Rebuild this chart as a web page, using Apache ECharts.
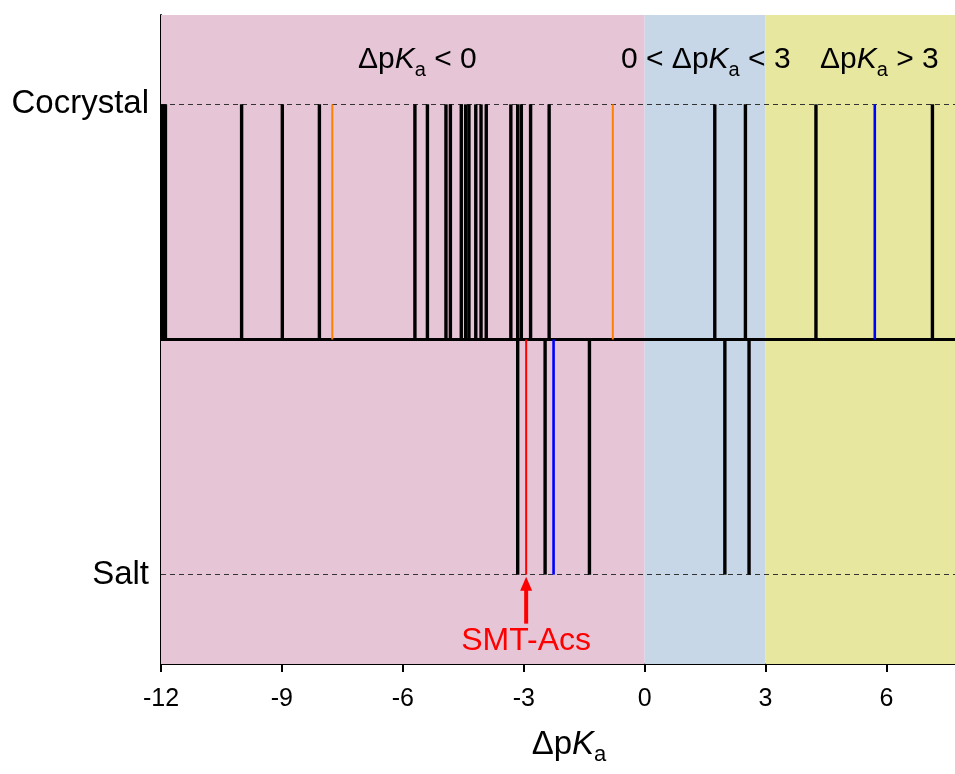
<!DOCTYPE html>
<html>
<head>
<meta charset="utf-8">
<script src="https://cdn.jsdelivr.net/npm/echarts@6/dist/echarts.min.js"></script>
<style>
  html, body { margin: 0; padding: 0; background: #fff; }
  #chart { width: 955px; height: 774px; }
</style>
</head>
<body>
<div id="chart"></div>
<script>
// ΔpKa values
const cocrystalBlack = [-11.96, -11.89, -10.0, -8.99, -8.07, -5.70, -5.39, -4.93, -4.82, -4.55, -4.44,
  -4.36, -4.19, -4.06, -3.93, -3.32, -3.15, -3.06, -2.83, -2.37, 1.74, 2.50, 4.25, 7.14]
const cocrystalOrange = [-7.75, -0.79]
const cocrystalBlue = [5.71]
const saltBlack = [-3.15, -2.47, -1.37, 1.99, 2.59]
const saltRed = [-2.94]
const saltBlue = [-2.26]

// y = 0 -> Salt, y = 1 -> Cocrystal
const rowLabels = ['Salt', 'Cocrystal']
const xTickValues = [-12, -9, -6, -3, 0, 3, 6]
const xMinorTicks = [-10.5, -7.5, -4.5, -1.5, 1.5, 4.5, 7.5]
const regionBounds = [[-12, 0], [0, 3], [3, 7.7]]

const FONT = 'Arial, "Liberation Sans", sans-serif'
const bandColors = ['#e6c5d7', '#c7d7e7', '#e7e79f']

// ΔpKa rich text pieces
const richStyle = (size, sub, lh) => ({
  d: { fontSize: size, fontFamily: FONT, color: '#000', lineHeight: lh },
  k: { fontSize: size, fontFamily: FONT, fontStyle: 'italic', color: '#000', lineHeight: lh },
  s: { fontSize: sub, fontFamily: FONT, color: '#000', lineHeight: lh, verticalAlign: 'bottom' }
})

const stickSeries = (values, y0, y1, color, width) => ({
  type: 'custom',
  z: 5,
  data: values.map(v => [v, y0, y1]),
  encode: { x: 0, y: [1, 2] },
  renderItem: (params, api) => {
    const a = api.coord([api.value(0), api.value(1)])
    const b = api.coord([api.value(0), api.value(2)])
    return {
      type: 'line',
      shape: { x1: a[0], y1: a[1], x2: b[0], y2: b[1] },
      style: { stroke: color, lineWidth: width }
    }
  }
})

const chart = echarts.init(document.getElementById('chart'), null, { renderer: 'canvas' })

const option = {
  animation: false,
  backgroundColor: '#fff',
  grid: { left: 161, right: 0, top: 15, bottom: 110, containLabel: false },
  xAxis: [
    {
      type: 'value',
      min: -12,
      max: 7.7,
      interval: 3,
      axisLine: { show: true, onZero: false, lineStyle: { color: '#000', width: 2 } },
      axisTick: { show: true, customValues: xTickValues, length: 8, lineStyle: { color: '#000', width: 2 } },
      axisLabel: { customValues: xTickValues, color: '#000', fontSize: 25, fontFamily: FONT, margin: 23 },
      splitLine: { show: false },
      name: '{d|Δp}{k|K}{s|a}',
      nameLocation: 'middle',
      nameGap: 60,
      nameTextStyle: { fontSize: 33, fontFamily: FONT, color: '#000', padding: [0, 0, 0, 22], rich: richStyle(33, 22, 42) }
    },
    {
      // minor ticks only
      type: 'value',
      position: 'bottom',
      min: -12,
      max: 7.7,
      axisLine: { show: false },
      axisTick: { show: true, customValues: xMinorTicks, length: 5, lineStyle: { color: '#000', width: 2 } },
      axisLabel: { show: false },
      splitLine: { show: false }
    }
  ],
  yAxis: {
    type: 'value',
    min: -0.19,
    max: 1.19,
    axisLine: { show: true, onZero: false, lineStyle: { color: '#000', width: 2 } },
    axisTick: { show: true, inside: true, length: 3, customValues: [0, 1], lineStyle: { color: '#000' } },
    axisLabel: {
      customValues: [0, 1],
      formatter: v => rowLabels[Math.round(v)],
      color: '#000', fontSize: 33, fontFamily: FONT, margin: 12
    },
    splitLine: { show: false }
  },
  graphic: [
    { type: 'text', x: 358, y: 40, z: 10, style: { text: '{d|Δp}{k|K}{s|a}{d| < 0}', rich: richStyle(30, 20, 40), verticalAlign: 'top' } },
    { type: 'text', x: 621, y: 40, z: 10, style: { text: '{d|0 < Δp}{k|K}{s|a}{d| < 3}', rich: richStyle(30, 20, 40), verticalAlign: 'top' } },
    { type: 'text', x: 820, y: 40, z: 10, style: { text: '{d|Δp}{k|K}{s|a}{d| > 3}', rich: richStyle(30, 20, 40), verticalAlign: 'top' } }
  ],
  series: [
    {
      // coloured ΔpKa regions
      type: 'line',
      z: 1,
      data: [],
      markArea: {
        silent: true,
        data: regionBounds.map(([a, b], i) => [
          { xAxis: a, itemStyle: { color: bandColors[i], opacity: 1 } },
          { xAxis: b }
        ])
      }
    },
    {
      // row guide lines + divider
      type: 'line',
      z: 2,
      data: [],
      markLine: {
        silent: true,
        symbol: 'none',
        label: { show: false },
        data: [
          { yAxis: 1, lineStyle: { color: '#333', width: 1, type: [5, 4] } },
          { yAxis: 0, lineStyle: { color: '#333', width: 1, type: [5, 4] } },
          { yAxis: 0.5, lineStyle: { color: '#000', width: 3, type: 'solid' } }
        ]
      }
    },
    stickSeries(cocrystalBlack, 0.5, 1, '#000', 3.4),
    stickSeries(cocrystalOrange, 0.5, 1, '#ff7f00', 2),
    stickSeries(cocrystalBlue, 0.5, 1, '#0000ff', 2.6),
    stickSeries(saltBlack, 0.5, 0, '#000', 3.4),
    stickSeries(saltRed, 0.5, 0, '#ff0000', 2),
    stickSeries(saltBlue, 0.5, 0, '#0000ff', 2.6),
    {
      // SMT-Acs arrow
      type: 'custom',
      z: 6,
      data: saltRed.map(v => [v, 0]),
      renderItem: (params, api) => {
        const p = api.coord([api.value(0), api.value(1)])
        const x = p[0], y = p[1]
        return {
          type: 'group',
          children: [
            { type: 'line', shape: { x1: x, y1: y + 14, x2: x, y2: y + 49 }, style: { stroke: '#ff0000', lineWidth: 4 } },
            { type: 'polygon', shape: { points: [[x, y + 2], [x - 6, y + 16], [x + 6, y + 16]] }, style: { fill: '#ff0000' } },
            { type: 'text', x: x, y: y + 67, style: { text: 'SMT-Acs', fill: '#ff0000', font: '32px ' + FONT, align: 'center', verticalAlign: 'middle' } }
          ]
        }
      }
    }
  ]
}

chart.setOption(option)
</script>
</body>
</html>
